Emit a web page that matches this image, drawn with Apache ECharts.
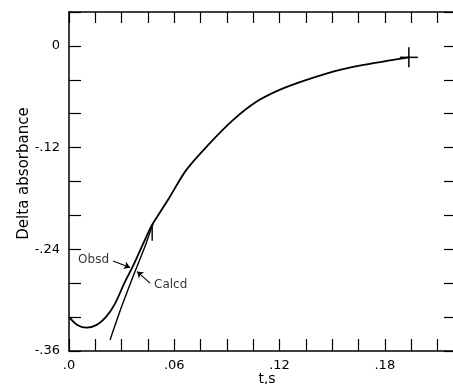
<!DOCTYPE html>
<html>
<head>
<meta charset="utf-8">
<script src="https://cdn.jsdelivr.net/npm/echarts@6/dist/echarts.min.js"></script>
<style>
html,body{margin:0;padding:0;background:#fff;}
#chart{width:453px;height:384px;}
</style>
</head>
<body>
<div id="chart"></div>
<script>
// ---- data ----
var obsdT = [0, 0.0047, 0.0101, 0.0158, 0.0210, 0.0260, 0.0316, 0.0368, 0.0399, 0.0430, 0.0470, 0.052, 0.0575, 0.067, 0.0803, 0.0936, 0.107, 0.120, 0.1354, 0.1544, 0.1734, 0.1937];
var obsdV = [-0.3198, -0.3292, -0.3324, -0.3292, -0.3200, -0.3050, -0.2796, -0.2584, -0.2442, -0.2301, -0.2124, -0.196, -0.178, -0.146, -0.1148, -0.0873, -0.0657, -0.0519, -0.0401, -0.0283, -0.0204, -0.0135];
var calcdT = [0.0234, 0.030, 0.0376, 0.0433, 0.0470, 0.0479];
var calcdV = [-0.3469, -0.3076, -0.2663, -0.2368, -0.2147, -0.2100];
var endMarkT = [0.1937];
var endMarkV = [-0.0135];
var xLabelValues = [0, 0.06, 0.12, 0.18];
var xTickLabels = ['.0', '.06', '.12', '.18'];
var yLabelValues = [0, -0.12, -0.24, -0.36];
var yTickLabels = ['0', '-.12', '-.24', '-.36'];
var annotText = ['Obsd', 'Calcd'];
var annotT = [0.0234, 0.0479];
var annotV = [-0.2525, -0.282];
var obsdArrowT = [0.0251, 0.0348];
var obsdArrowV = [-0.2537, -0.2614];
var calcdArrowT = [0.0462, 0.0388];
var calcdArrowV = [-0.2800, -0.2663];
var junctionT = [0.0474, 0.0474];
var junctionV = [-0.212, -0.230];

function zip(a, b) { return a.map(function (x, i) { return [x, b[i]]; }); }
function lookup(vals, labels, v) {
  for (var i = 0; i < vals.length; i++) { if (Math.abs(vals[i] - v) < 1e-6) return labels[i]; }
  return '';
}

var FONT = 'DejaVu Sans';
var axisLine = { show: true, onZero: false, lineStyle: { color: '#000', width: 1.5 } };
var tickStyle = { show: true, inside: true, length: 12, lineStyle: { color: '#000', width: 1.2 } };
var tickStyle2 = { show: true, inside: true, length: 11, lineStyle: { color: '#000', width: 1.2 } };

var chart = echarts.init(document.getElementById('chart'), null, { renderer: 'canvas' });
chart.setOption({
  animation: false,
  backgroundColor: '#fff',
  grid: { left: 69, right: -2, top: 12, bottom: 33, containLabel: false, outerBoundsMode: 'none' },
  xAxis: [{
    type: 'value', position: 'bottom', min: 0, max: 0.22, interval: 0.015,
    axisLine: axisLine, axisTick: tickStyle, splitLine: { show: false },
    axisLabel: { show: true, margin: 8, color: '#000', fontFamily: FONT, fontSize: 13,
      formatter: function (v) { return lookup(xLabelValues, xTickLabels, v); } },
    name: 't,s', nameLocation: 'middle', nameGap: 21, nameMoveOverlap: false,
    nameTextStyle: { color: '#000', fontFamily: FONT, fontSize: 14, padding: [0, 0, 0, 10] }
  }, {
    type: 'value', position: 'top', min: 0, max: 0.22, interval: 0.015,
    axisLine: axisLine, axisTick: tickStyle2,
    axisLabel: { show: false }, splitLine: { show: false }
  }],
  yAxis: [{
    type: 'value', position: 'left', min: -0.36, max: 0.04, interval: 0.04,
    axisLine: axisLine, axisTick: tickStyle, splitLine: { show: false },
    axisLabel: { show: true, margin: 9, color: '#000', fontFamily: FONT, fontSize: 13,
      formatter: function (v) { return lookup(yLabelValues, yTickLabels, v); } },
    name: 'Delta absorbance', nameLocation: 'middle', nameGap: 37, nameRotate: 90, nameMoveOverlap: false,
    nameTextStyle: { color: '#000', fontFamily: FONT, fontSize: 15, padding: [0, 0, 0, 16] }
  }, {
    type: 'value', position: 'right', min: -0.36, max: 0.04, interval: 0.04,
    axisLine: axisLine, axisTick: tickStyle2,
    axisLabel: { show: false }, splitLine: { show: false }
  }],
  series: [
    { name: 'Obsd', type: 'line', data: zip(obsdT, obsdV), smooth: 0.35, showSymbol: false,
      lineStyle: { color: '#000', width: 1.8 }, z: 3 },
    { name: 'Calcd', type: 'line', data: zip(calcdT, calcdV), smooth: 0.2, showSymbol: false,
      lineStyle: { color: '#000', width: 1.4 }, z: 3 },
    { name: 'end', type: 'custom', data: zip(endMarkT, endMarkV), z: 4,
      renderItem: function (params, api) {
        var p = api.coord([api.value(0), api.value(1)]);
        return { type: 'group', children: [
          { type: 'line', shape: { x1: p[0] - 9, y1: p[1], x2: p[0] + 9, y2: p[1] }, style: { stroke: '#000', lineWidth: 1.5 } },
          { type: 'line', shape: { x1: p[0], y1: p[1] - 10, x2: p[0], y2: p[1] + 10 }, style: { stroke: '#000', lineWidth: 1.5 } }
        ] };
      } },
    { name: 'junction', type: 'line', data: zip(junctionT, junctionV), showSymbol: false,
      lineStyle: { color: '#000', width: 1.4 } },
    { name: 'arrows', type: 'lines', coordinateSystem: 'cartesian2d',
      symbol: ['none', 'arrow'], symbolSize: 6,
      lineStyle: { color: '#000', width: 1.1, opacity: 1 },
      data: [
        { coords: zip(obsdArrowT, obsdArrowV) },
        { coords: zip(calcdArrowT, calcdArrowV) }
      ] },
    { name: 'annot', type: 'scatter', symbolSize: 0,
      data: annotT.map(function (t, i) {
        return { value: [t, annotV[i]],
          label: { show: true, formatter: annotText[i], position: i === 0 ? 'left' : 'right', distance: 1,
            color: '#000', fontFamily: FONT, fontSize: 12 } };
      }) }
  ]
});
</script>
</body>
</html>
